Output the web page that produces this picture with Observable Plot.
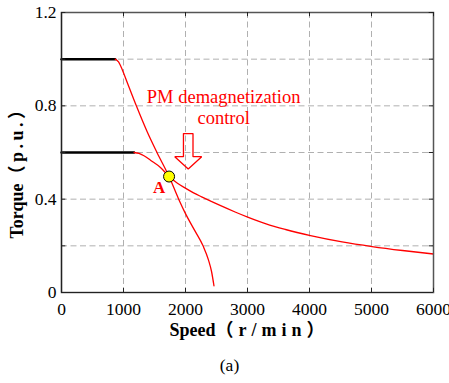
<!DOCTYPE html>
<html><head><meta charset="utf-8">
<script src="https://cdn.jsdelivr.net/npm/d3@7"></script>
<script src="https://cdn.jsdelivr.net/npm/@observablehq/plot@0.6"></script>
<style>
body{margin:0;background:#fff;}
#chart svg{display:block;}
#chart svg, #chart svg text{font-family:"Liberation Serif","Times New Roman","Noto Sans CJK SC",serif !important;}
</style>
</head><body><div id="chart"></div>
<script>
// Axis ticks
const xTicks = [0, 1000, 2000, 3000, 4000, 5000, 6000];
const xGrid = [1000, 2000, 3000, 4000, 5000];
const yLabelTicks = [0, 0.4, 0.8, 1.2];
const yTicks = [0, 0.2, 0.4, 0.6, 0.8, 1.0, 1.2];
const yGrid = [0.2, 0.4, 0.6, 0.8, 1.0];

// Constant-torque (black) segments
const flat1Speed = [0, 866];
const flat1Torque = [1.0, 1.0];
const flat2Speed = [0, 1170];
const flat2Torque = [0.6, 0.6];

// Curve 1 (high torque, steep drop)
const curve1Speed = [866, 920, 980, 1060, 1207, 1380, 1540, 1735, 1890, 2004, 2150, 2283, 2370, 2420, 2459];
const curve1Torque = [1.0, 0.988, 0.955, 0.90, 0.8, 0.69, 0.6, 0.497, 0.4, 0.336, 0.265, 0.2, 0.14, 0.09, 0.029];

// Curve 2 (PM demagnetization control)
const curve2Speed = [1170, 1250, 1330, 1440, 1600, 1735, 1870, 2004, 2130, 2260, 2420, 2567, 2800, 3013, 3300, 3613, 4016, 4526, 5009, 5500, 6000];
const curve2Torque = [0.6, 0.596, 0.586, 0.566, 0.535, 0.497, 0.468, 0.446, 0.427, 0.41, 0.39, 0.372, 0.345, 0.322, 0.294, 0.27, 0.244, 0.217, 0.197, 0.18, 0.165];

// Point A
const pointASpeed = 1735;
const pointATorque = 0.497;

// Hollow arrow outline (data units)
const arrowSpeed = [1967, 2121, 2121, 2261, 2044, 1827, 1967, 1967];
const arrowTorque = [0.681, 0.681, 0.582, 0.582, 0.529, 0.582, 0.582, 0.681];

// Texts
const annotation = "PM demagnetization\ncontrol";
const annotationSpeed = 2615;
const annotationTorque = 0.797;
const labelA = "A";
const labelASpeed = 1574;
const labelATorque = 0.45;
const xTitleHead = "Speed";
const xTitleTail = "（r/min）";
const yTitleHead = "Torque";
const yTitleTail = "（p.u.）";
const caption = "(a)";

const zip = (xs, ys) => xs.map((s, i) => ({s, v: ys[i]}));
const serif = "Liberation Serif";
const title = {text: d => d, fontWeight: "bold", fontSize: 18};

const chart = Plot.plot({
  width: 449, height: 383,
  marginLeft: 61, marginRight: 16, marginTop: 12, marginBottom: 91,
  x: {domain: [0, 6000]},
  y: {domain: [0, 1.2]},
  style: {fontFamily: serif, fontSize: "17.5px", background: "white", color: "#000", overflow: "visible"},
  marks: [
    Plot.gridX(xGrid, {stroke: "#b0b0b0", strokeOpacity: 1, strokeDasharray: "6,3.5"}),
    Plot.gridY(yGrid, {stroke: "#b0b0b0", strokeOpacity: 1, strokeDasharray: "6,3.5"}),
    Plot.line(zip(flat1Speed, flat1Torque), {x: "s", y: "v", stroke: "#000", strokeWidth: 2.5}),
    Plot.line(zip(flat2Speed, flat2Torque), {x: "s", y: "v", stroke: "#000", strokeWidth: 2.5}),
    Plot.line(zip(curve1Speed, curve1Torque), {x: "s", y: "v", stroke: "#f00", strokeWidth: 1.3, curve: "monotone-x"}),
    Plot.line(zip(curve2Speed, curve2Torque), {x: "s", y: "v", stroke: "#f00", strokeWidth: 1.3, curve: "monotone-x"}),
    Plot.line(zip(arrowSpeed, arrowTorque), {x: "s", y: "v", stroke: "#f00", strokeWidth: 1.3, strokeLinejoin: "miter"}),
    Plot.dot([{s: pointASpeed, v: pointATorque}], {x: "s", y: "v", r: 5.5, fill: "#ffff00", stroke: "#000", strokeWidth: 1}),
    Plot.text([{s: labelASpeed, v: labelATorque, t: labelA}], {x: "s", y: "v", text: "t", fill: "#f00", fontWeight: "bold", fontSize: 17}),
    Plot.text([{s: annotationSpeed, v: annotationTorque, t: annotation}], {x: "s", y: "v", text: "t", fill: "#f00", fontSize: 18.5, lineHeight: 1.14}),
    Plot.frame({stroke: "#555", strokeWidth: 1.5}),
    Plot.ruleX([0], {stroke: "#222", strokeWidth: 1.2}),
    Plot.ruleY([0], {stroke: "#222", strokeWidth: 1.2}),
    Plot.ruleX(xTicks, {x: d => d, y1: 0, y2: 0.018, stroke: "#222"}),
    Plot.ruleX(xTicks, {x: d => d, y1: 1.182, y2: 1.2, stroke: "#222"}),
    Plot.ruleY(yTicks, {y: d => d, x1: 0, x2: 70, stroke: "#222"}),
    Plot.ruleY(yTicks, {y: d => d, x1: 5930, x2: 6000, stroke: "#222"}),
    Plot.axisX(xTicks, {tickSize: 0, tickPadding: 10, tickFormat: d => String(d), label: null, fontSize: 17.5}),
    Plot.axisY(yLabelTicks, {tickSize: 0, tickPadding: 5, tickFormat: d => String(d), label: null, fontSize: 17.5}),
    // y title: head ends at the junction, tail starts there (text reads upward)
    Plot.text([yTitleHead], {...title, frameAnchor: "left", rotate: -90, textAnchor: "end", dx: -44, dy: 31}),
    Plot.text([yTitleTail], {...title, frameAnchor: "left", rotate: -90, textAnchor: "start", dx: -44, dy: 31}),
    // x title
    Plot.text([xTitleHead], {...title, frameAnchor: "bottom", textAnchor: "end", dx: -32, dy: 43}),
    Plot.text([xTitleTail], {...title, frameAnchor: "bottom", textAnchor: "start", dx: -32, dy: 43}),
    Plot.text([caption], {text: d => d, frameAnchor: "bottom", dx: -18, dy: 78, fontSize: 17.5})
  ]
});

// widen the parenthetical part of each axis title, as in the reference
d3.select(chart).selectAll("text")
  .filter(function () { return this.textContent === xTitleTail; })
  .attr("letter-spacing", "5px");
d3.select(chart).selectAll("text")
  .filter(function () { return this.textContent === yTitleTail; })
  .attr("letter-spacing", "3.5px");

document.getElementById("chart").appendChild(chart);
</script>
</body></html>
